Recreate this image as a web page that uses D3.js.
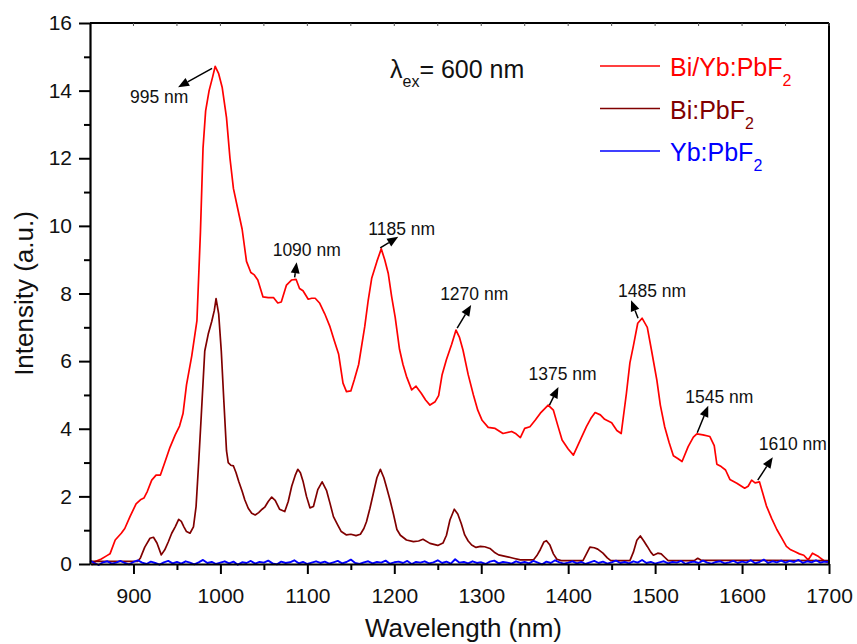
<!DOCTYPE html>
<html>
<head>
<meta charset="utf-8">
<script src="https://cdn.jsdelivr.net/npm/d3@7/dist/d3.min.js"></script>
<style>
  html, body { margin: 0; padding: 0; background: #ffffff; }
  svg { display: block; font-family: "Liberation Sans", Arial, sans-serif; }
</style>
</head>
<body>
<svg id="chart" width="857" height="644"></svg>
<script>
// Emission spectra under 600 nm excitation: [wavelength (nm), intensity (a.u.)]
const biYbSpectrum = [
  [852,-0.03],[856,0.07],[863,0.15],[869,0.24],[873,0.30],[879,0.71],[886,0.91],[890,1.05],
  [896,1.40],[903,1.78],[908,1.90],[912,1.95],[916,2.15],[921,2.48],[926,2.63],[931,2.63],
  [936,3.00],[942,3.45],[948,3.82],[953,4.08],[957,4.45],[961,5.30],[967,6.15],[973,7.20],
  [977,9.8],[980,12.3],[983,13.4],[987,14.0],[991,14.4],[994,14.72],[998,14.5],[1002,14.1],
  [1007,13.2],[1011,12.0],[1015,11.1],[1020,10.5],[1025,9.9],[1030,8.95],[1035,8.62],[1039,8.55],
  [1043,8.40],[1049,7.90],[1055,7.88],[1061,7.88],[1066,7.72],[1070,7.75],[1076,8.25],[1082,8.40],
  [1087,8.42],[1091,8.15],[1095,8.08],[1101,7.83],[1105,7.86],[1109,7.86],[1114,7.72],[1120,7.40],
  [1126,7.02],[1131,6.60],[1136,6.20],[1141,5.35],[1145,5.10],[1150,5.12],[1154,5.45],[1159,5.90],
  [1166,7.02],[1170,7.80],[1174,8.45],[1180,8.95],[1185,9.32],[1189,9.00],[1193,8.60],[1197,7.90],
  [1201,7.30],[1206,6.35],[1210,5.90],[1214,5.55],[1220,5.15],[1225,5.26],[1231,5.05],[1236,4.85],
  [1241,4.70],[1247,4.80],[1251,4.98],[1255,5.60],[1260,6.05],[1266,6.50],[1271,6.92],[1275,6.70],
  [1279,6.33],[1285,5.60],[1291,5.00],[1296,4.55],[1301,4.25],[1308,4.04],[1316,4.01],[1325,3.86],
  [1335,3.92],[1340,3.85],[1345,3.74],[1350,4.01],[1356,4.06],[1362,4.25],[1368,4.46],[1377,4.70],
  [1383,4.55],[1388,4.10],[1393,3.67],[1400,3.40],[1406,3.22],[1414,3.67],[1421,4.06],[1426,4.30],
  [1431,4.48],[1437,4.41],[1442,4.28],[1450,4.18],[1456,3.95],[1461,3.86],[1467,5.05],[1471,5.95],
  [1475,6.45],[1480,7.12],[1485,7.27],[1491,7.00],[1496,6.30],[1502,5.44],[1506,4.70],[1511,4.06],
  [1516,3.60],[1521,3.20],[1526,3.12],[1531,3.03],[1538,3.47],[1544,3.75],[1548,3.85],[1555,3.82],
  [1563,3.77],[1568,3.50],[1571,2.95],[1576,2.88],[1581,2.78],[1586,2.50],[1594,2.39],[1603,2.24],
  [1607,2.30],[1611,2.48],[1615,2.40],[1620,2.43],[1628,1.72],[1634,1.35],[1640,1.02],[1646,0.75],
  [1651,0.52],[1656,0.42],[1661,0.36],[1666,0.30],[1671,0.26],[1676,0.12],[1681,0.32],[1688,0.22],
  [1695,0.08],[1700,0.03]
];

const biSpectrum = [
  [850,0.08],[880,0.08],[905,0.08],[908,0.18],[913,0.50],[919,0.76],[923,0.79],[927,0.62],
  [932,0.27],[936,0.42],[940,0.65],[944,0.91],[948,1.10],[952,1.32],[955,1.26],[958,1.10],
  [961,0.96],[965,0.91],[969,1.10],[972,1.70],[975,3.00],[978,4.40],[982,6.30],[986,6.80],
  [990,7.17],[993,7.50],[995,7.85],[998,7.40],[1001,6.30],[1004,4.80],[1007,3.35],[1009,3.00],
  [1012,2.92],[1015,2.90],[1018,2.70],[1021,2.45],[1025,2.15],[1028,1.90],[1032,1.65],[1036,1.50],
  [1040,1.45],[1044,1.52],[1048,1.62],[1051,1.68],[1055,1.85],[1059,1.98],[1063,1.88],[1068,1.62],
  [1074,1.55],[1078,1.85],[1082,2.30],[1086,2.62],[1089,2.80],[1092,2.70],[1095,2.45],[1099,2.00],
  [1103,1.66],[1107,1.70],[1112,2.20],[1117,2.43],[1122,2.18],[1126,1.80],[1130,1.40],[1135,1.15],
  [1139,0.96],[1145,0.86],[1150,0.88],[1156,0.84],[1161,0.88],[1165,1.05],[1168,1.25],[1172,1.65],
  [1176,2.10],[1180,2.55],[1184,2.80],[1188,2.55],[1191,2.28],[1195,1.90],[1199,1.48],[1203,1.02],
  [1207,0.85],[1214,0.71],[1222,0.66],[1228,0.68],[1233,0.73],[1241,0.61],[1250,0.55],[1256,0.62],
  [1260,0.85],[1264,1.30],[1269,1.62],[1273,1.48],[1277,1.20],[1281,0.86],[1285,0.68],[1289,0.56],
  [1294,0.49],[1299,0.52],[1304,0.51],[1310,0.46],[1315,0.35],[1320,0.27],[1329,0.22],[1337,0.17],
  [1345,0.12],[1360,0.12],[1364,0.25],[1368,0.43],[1372,0.65],[1375,0.69],[1379,0.56],[1383,0.30],
  [1387,0.14],[1392,0.10],[1417,0.10],[1421,0.30],[1425,0.50],[1430,0.48],[1434,0.44],[1440,0.32],
  [1445,0.18],[1449,0.10],[1471,0.10],[1475,0.35],[1479,0.70],[1483,0.83],[1487,0.68],[1491,0.52],
  [1495,0.35],[1498,0.26],[1503,0.32],[1507,0.30],[1511,0.20],[1515,0.10],[1545,0.10],[1549,0.17],
  [1553,0.11],[1700,0.10]
];

// Yb:PbF2 is sampled every 5 nm from 850 nm; it stays at the noise floor
const ybStart = 850, ybStep = 5;
const ybIntensity = [
  0.10, 0.03,-0.03, 0.05, 0.08, 0.01, 0.04, 0.09, 0.03,-0.01,
  0.06, 0.11, 0.04, 0.00, 0.07, 0.03,-0.02, 0.05, 0.09, 0.02,
  0.06, 0.01, 0.08, 0.04,-0.01, 0.05, 0.12, 0.03, 0.06, 0.00,
  0.04, 0.08, 0.02, 0.07,-0.02, 0.05, 0.03, 0.09, 0.01, 0.06,
  0.04, 0.10, 0.02,-0.01, 0.07, 0.03, 0.05, 0.11, 0.02, 0.06,
  0.00, 0.04, 0.08, 0.03, 0.07, 0.01, 0.05, 0.09, 0.02, 0.06,
  0.13, 0.03, 0.00, 0.05, 0.08, 0.02, 0.06, 0.04, 0.10, 0.01,
  0.05, 0.07, 0.03, 0.09, 0.00, 0.06, 0.04, 0.08, 0.02, 0.05,
  0.11, 0.03, 0.07, 0.01, 0.14, 0.04, 0.06, 0.02, 0.08, 0.03,
  0.05, 0.00, 0.07, 0.10, 0.02, 0.06, 0.04, 0.01, 0.08, 0.03,
  0.06, 0.02, 0.09, 0.04,-0.01, 0.07, 0.03, 0.11, 0.05, 0.01,
  0.04, 0.08, 0.02, 0.06, 0.00, 0.05, 0.09, 0.03, 0.07, 0.01,
  0.05, 0.10, 0.03, 0.06, 0.02, 0.08, 0.04, 0.12, 0.03, 0.06,
  0.01, 0.05, 0.08, 0.02, 0.06, 0.04, 0.09, 0.00, 0.05, 0.07,
  0.03, 0.10, 0.04, 0.01, 0.06, 0.08, 0.02, 0.05, 0.09, 0.03,
  0.07, 0.04, 0.11, 0.02, 0.06, 0.13, 0.03, 0.08, 0.05, 0.10,
  0.04, 0.09, 0.06, 0.12, 0.03, 0.08, 0.05, 0.11, 0.04, 0.07,
  0.06
];

// Axis ticks
const xMajorTicks = [900, 1000, 1100, 1200, 1300, 1400, 1500, 1600, 1700];
const xMinorTicks = [950, 1050, 1150, 1250, 1350, 1450, 1550, 1650];
const yMajorTicks = [0, 2, 4, 6, 8, 10, 12, 14, 16];
const yMinorTicks = [1, 3, 5, 7, 9, 11, 13, 15];

// Series names and colours
const seriesNames = ["Bi/Yb:PbF", "Bi:PbF", "Yb:PbF"];
const seriesColors = ["#ff0000", "#800000", "#0000ff"];

// Peak callouts: label, wavelength, intensity at the arrow's base
const calloutLabels = ["995 nm", "1090 nm", "1185 nm", "1270 nm", "1375 nm", "1485 nm", "1545 nm", "1610 nm"];
const calloutNm = [995, 1090, 1185, 1270, 1375, 1485, 1545, 1610];
const calloutValue = [14.72, 8.42, 9.32, 6.92, 4.70, 7.27, 3.85, 2.48];
// arrow start, arrow tip and label position, in px relative to the anchor
const calloutLayout = [
  { s: [-4, 2],  t: [-38, 21], l: [-86, 37] },
  { s: [-4, -2], t: [-2, -17], l: [-26, -23] },
  { s: [-1, -1], t: [17, -12], l: [-13, -14] },
  { s: [2, -2],  t: [16, -25], l: [-15, -30] },
  { s: [3, 0],   t: [12, -18], l: [-18, -25] },
  { s: [-4, 0],  t: [-11, -18], l: [-24, -21] },
  { s: [3, -1],  t: [14, -28], l: [-9, -31] },
  { s: [7, 0],   t: [22, -23], l: [8, -30] }
];

const svg = d3.select("#chart");
const margin = { left: 90, right: 28, top: 23, bottom: 80 };
const W = 857, H = 644;

const x = d3.scaleLinear().domain([850, 1700]).range([margin.left, W - margin.right]);
const y = d3.scaleLinear().domain([0, 16]).range([H - margin.bottom, margin.top]);

const line = d3.line().x(d => x(d[0])).y(d => y(d[1]));

const ybSpectrum = ybIntensity.map((v, i) => [ybStart + i * ybStep, v]);

// Spectra (the blue trace is drawn last so it sits on top of the baseline)
const traces = [
  { data: biYbSpectrum, color: seriesColors[0], w: 1.7 },
  { data: biSpectrum, color: seriesColors[1], w: 1.7 },
  { data: ybSpectrum, color: seriesColors[2], w: 1.9 }
];
svg.append("g").selectAll("path").data(traces).join("path")
  .attr("d", d => line(d.data))
  .attr("fill", "none")
  .attr("stroke", d => d.color)
  .attr("stroke-width", d => d.w)
  .attr("stroke-linejoin", "round");

// Frame: top and right edges
const frame = svg.append("g").attr("stroke", "#000").attr("stroke-width", 2).attr("fill", "none");
frame.append("line").attr("x1", x(850)).attr("x2", x(1700)).attr("y1", y(16)).attr("y2", y(16));
frame.append("line").attr("x1", x(1700)).attr("x2", x(1700)).attr("y1", y(16)).attr("y2", y(0));

// small inward ticks along the top edge
svg.append("g").selectAll("line").data(xMajorTicks.concat(xMinorTicks)).join("line")
  .attr("x1", d => x(d)).attr("x2", d => x(d))
  .attr("y1", y(16)).attr("y2", y(16) + 3)
  .attr("stroke", "#555").attr("stroke-width", 1);

// Bottom axis
svg.append("g").attr("transform", `translate(0,${y(0)})`)
  .call(d3.axisBottom(x).tickValues(xMajorTicks).tickFormat(d3.format("d"))
    .tickSize(10).tickPadding(14).tickSizeOuter(0));
svg.append("g").attr("transform", `translate(0,${y(0)})`)
  .call(d3.axisBottom(x).tickValues(xMinorTicks).tickSize(6).tickFormat("").tickSizeOuter(0))
  .select(".domain").remove();

// Left axis
svg.append("g").attr("transform", `translate(${x(850)},0)`)
  .call(d3.axisLeft(y).tickValues(yMajorTicks).tickFormat(d3.format("d"))
    .tickSize(11).tickPadding(7).tickSizeOuter(0));
svg.append("g").attr("transform", `translate(${x(850)},0)`)
  .call(d3.axisLeft(y).tickValues(yMinorTicks).tickSize(6).tickFormat("").tickSizeOuter(0))
  .select(".domain").remove();

svg.selectAll(".domain").attr("stroke", "#000").attr("stroke-width", 2.2);
svg.selectAll(".tick line").attr("stroke", "#000").attr("stroke-width", 2);
svg.selectAll(".tick text")
  .attr("font-family", "'Liberation Sans', Arial, sans-serif")
  .attr("font-size", 21).attr("fill", "#111");

// Axis titles
svg.append("text")
  .attr("x", (x(850) + x(1700)) / 2 + 4).attr("y", 637)
  .attr("text-anchor", "middle").attr("font-size", 26).attr("fill", "#111")
  .text("Wavelength (nm)");
svg.append("text")
  .attr("transform", `translate(33,${(y(0) + y(16)) / 2}) rotate(-90)`)
  .attr("text-anchor", "middle").attr("font-size", 26).attr("fill", "#111")
  .text("Intensity (a.u.)");

// Excitation wavelength note
const ex = svg.append("text").attr("x", 390).attr("y", 78).attr("font-size", 25).attr("fill", "#111");
ex.append("tspan").text("λ");
ex.append("tspan").attr("font-size", 16).attr("dy", 9).text("ex");
ex.append("tspan").attr("dy", -9).text("= 600 nm");

// Legend
const legend = svg.append("g").attr("transform", "translate(600,66)");
seriesNames.forEach((name, i) => {
  const g = legend.append("g").attr("transform", `translate(0,${i * 42.5})`);
  g.append("line").attr("x1", 0).attr("x2", 60).attr("y1", 0).attr("y2", 0)
    .attr("stroke", seriesColors[i]).attr("stroke-width", 1.7);
  const t = g.append("text").attr("x", 70).attr("y", 10).attr("font-size", 25).attr("fill", seriesColors[i]);
  t.append("tspan").text(name);
  t.append("tspan").attr("font-size", 16).attr("dy", 10).text("2");
});

// Peak callouts with arrows
const callouts = svg.append("g");
calloutLabels.forEach((label, i) => {
  const ax = x(calloutNm[i]), ay = y(calloutValue[i]);
  const L = calloutLayout[i];
  const sx = ax + L.s[0], sy = ay + L.s[1];
  const tx = ax + L.t[0], ty = ay + L.t[1];
  const ang = Math.atan2(ty - sy, tx - sx);
  const headLen = 11, headHalf = 4.5;
  const bx = tx - headLen * Math.cos(ang), by = ty - headLen * Math.sin(ang);
  callouts.append("line")
    .attr("x1", sx).attr("y1", sy).attr("x2", bx).attr("y2", by)
    .attr("stroke", "#000").attr("stroke-width", 1.5);
  const px = -Math.sin(ang), py = Math.cos(ang);
  callouts.append("path")
    .attr("d", `M${tx},${ty}L${bx + px * headHalf},${by + py * headHalf}L${bx - px * headHalf},${by - py * headHalf}Z`)
    .attr("fill", "#000");
  callouts.append("text")
    .attr("x", ax + L.l[0]).attr("y", ay + L.l[1])
    .attr("font-size", 17.5).attr("fill", "#111")
    .text(label);
});
</script>
</body>
</html>
